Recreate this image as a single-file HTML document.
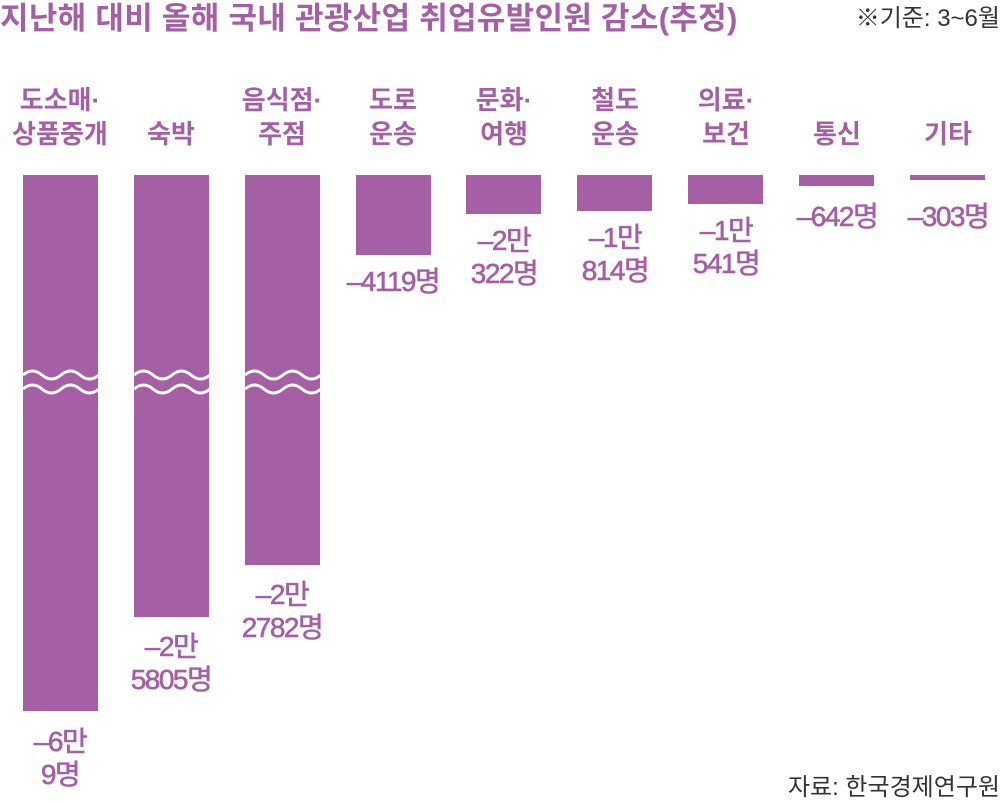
<!DOCTYPE html>
<html><head><meta charset="utf-8"><style>
body{margin:0;width:1002px;height:803px;background:#fff;overflow:hidden;font-family:"Liberation Sans","Noto Sans CJK KR",sans-serif}
</style></head><body>
<svg width="1002" height="803" xmlns="http://www.w3.org/2000/svg" style="position:absolute;left:0;top:0">
<defs>
<path id="w" d="M0 0 q9.5 -8 19 0 t19 0 t19 0 t19 0" fill="none" stroke="#fff" stroke-width="3"/>
</defs>
<g font-family="Liberation Sans, Noto Sans CJK KR, sans-serif" fill="#a45fa5">
<text x="0" y="29" font-size="31" font-weight="bold" letter-spacing="0.3">지난해 대비 올해 국내 관광산업 취업유발인원 감소(추정)</text>
<text x="1000" y="26" font-size="24" fill="#333" text-anchor="end">※기준: 3~6월</text>
<text x="1000" y="795" font-size="24" fill="#333" text-anchor="end">자료: 한국경제연구원</text>
<g font-size="26" font-weight="bold" text-anchor="middle">
<text x="60" y="109">도소매·</text><text x="60" y="143">상품중개</text>
<text x="171" y="143">숙박</text>
<text x="282" y="109">음식점·</text><text x="282" y="143">주점</text>
<text x="393" y="109">도로</text><text x="393" y="143">운송</text>
<text x="504" y="109">문화·</text><text x="504" y="143">여행</text>
<text x="615" y="109">철도</text><text x="615" y="143">운송</text>
<text x="726" y="109">의료·</text><text x="726" y="143">보건</text>
<text x="837" y="143">통신</text>
<text x="948" y="143">기타</text>
</g>
<rect x="23" y="175" width="75" height="536"/>
<rect x="134" y="175" width="75" height="442"/>
<rect x="245" y="175" width="75" height="390"/>
<rect x="356" y="175" width="75" height="80"/>
<rect x="466" y="175" width="75" height="39"/>
<rect x="577" y="175" width="75" height="36"/>
<rect x="688" y="175" width="75" height="29"/>
<rect x="799" y="175" width="75" height="11"/>
<rect x="910" y="175" width="75" height="5"/>
<use href="#w" x="23" y="375"/><use href="#w" x="23" y="389"/>
<use href="#w" x="134" y="375"/><use href="#w" x="134" y="389"/>
<use href="#w" x="245" y="375"/><use href="#w" x="245" y="389"/>
<g font-size="28" text-anchor="middle" letter-spacing="-1.5" stroke="#a45fa5" stroke-width="0.6">
<text x="60" y="751">–6만</text><text x="60" y="784">9명</text>
<text x="171" y="656">–2만</text><text x="171" y="689">5805명</text>
<text x="282" y="604">–2만</text><text x="282" y="637">2782명</text>
<text x="393" y="291">–4119명</text>
<text x="504" y="250">–2만</text><text x="504" y="283">322명</text>
<text x="615" y="247">–1만</text><text x="615" y="280">814명</text>
<text x="726" y="240">–1만</text><text x="726" y="273">541명</text>
<text x="837" y="226">–642명</text>
<text x="948" y="226">–303명</text>
</g>
</g>
</svg>
</body></html>
